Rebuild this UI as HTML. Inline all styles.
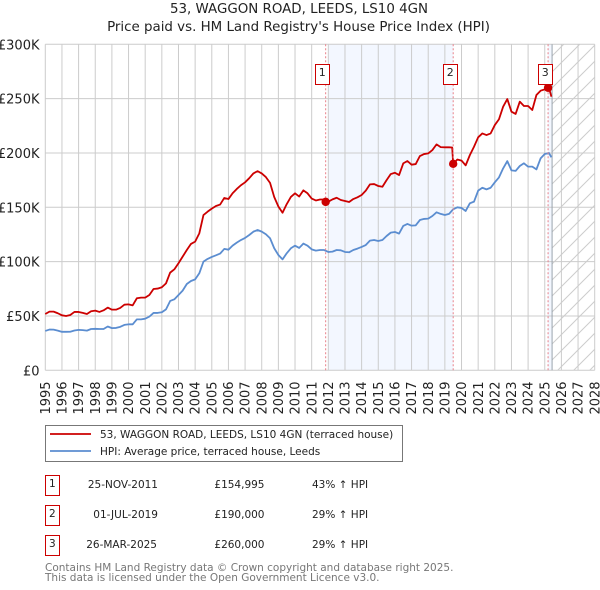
<!DOCTYPE html>
<html>
<head>
<meta charset="utf-8">
<title>53, WAGGON ROAD, LEEDS, LS10 4GN</title>
<style>
html,body{margin:0;padding:0;background:#fff;width:600px;height:590px;overflow:hidden}
svg{display:block}
text{font-family:"DejaVu Sans","Liberation Sans",sans-serif}
</style>
</head>
<body>
<svg id="chart" xmlns="http://www.w3.org/2000/svg" width="600" height="590" viewBox="0 0 600 590">
  <defs>
    <pattern id="hatch" patternUnits="userSpaceOnUse" width="16" height="16">
      <path d="M-2 18 L18 -2 M-2 2 L2 -2 M14 18 L18 14" stroke="#cccccc" stroke-width="1" fill="none"/>
    </pattern>
  </defs>
  <text x="299" y="13" text-anchor="middle" font-size="13.4" fill="#222">53, WAGGON ROAD, LEEDS, LS10 4GN</text>
  <text x="298.5" y="31" text-anchor="middle" font-size="13.4" fill="#222">Price paid vs. HM Land Registry's House Price Index (HPI)</text>
  <g id="bands"></g>
  <g id="grid"></g>
  <g id="yticks"></g>
  <g id="xticks"></g>
  <g id="series"></g>
  <g id="sales"></g>

  <g>
    <rect x="45.5" y="425.5" width="357" height="36" fill="#fff" stroke="#777" stroke-width="1"/>
    <line x1="50" x2="91" y1="434" y2="434" stroke="#cc0000" stroke-width="1.8"/>
    <text x="100" y="438" font-size="10.5" fill="#222">53, WAGGON ROAD, LEEDS, LS10 4GN (terraced house)</text>
    <line x1="50" x2="91" y1="451" y2="451" stroke="#5b8dd0" stroke-width="1.8"/>
    <text x="100" y="455" font-size="10.5" fill="#222">HPI: Average price, terraced house, Leeds</text>
  </g>

  <g font-size="10.5" fill="#222">
    <rect x="45.5" y="475.5" width="14" height="20" fill="#fff" stroke="#cc0000" stroke-width="1"/>
    <text x="52.3" y="487" text-anchor="middle">1</text>
    <text x="158" y="488" text-anchor="end">25-NOV-2011</text>
    <text x="264.5" y="488" text-anchor="end">£154,995</text>
    <text x="312" y="488">43% ↑ HPI</text>
  </g>
  <g font-size="10.5" fill="#222">
    <rect x="45.5" y="505.5" width="14" height="20" fill="#fff" stroke="#cc0000" stroke-width="1"/>
    <text x="52.3" y="517" text-anchor="middle">2</text>
    <text x="158" y="518" text-anchor="end">01-JUL-2019</text>
    <text x="264.5" y="518" text-anchor="end">£190,000</text>
    <text x="312" y="518">29% ↑ HPI</text>
  </g>
  <g font-size="10.5" fill="#222">
    <rect x="45.5" y="535.5" width="14" height="20" fill="#fff" stroke="#cc0000" stroke-width="1"/>
    <text x="52.3" y="547" text-anchor="middle">3</text>
    <text x="157" y="548" text-anchor="end">26-MAR-2025</text>
    <text x="264.5" y="548" text-anchor="end">£260,000</text>
    <text x="312" y="548">29% ↑ HPI</text>
  </g>

  <text x="45" y="571" font-size="10.5" fill="#777">Contains HM Land Registry data © Crown copyright and database right 2025.</text>
  <text x="45" y="581" font-size="10.5" fill="#777">This data is licensed under the Open Government Licence v3.0.</text>
</svg>
<script>
const yearTicks = [1995,1996,1997,1998,1999,2000,2001,2002,2003,2004,2005,2006,2007,2008,2009,2010,2011,2012,2013,2014,2015,2016,2017,2018,2019,2020,2021,2022,2023,2024,2025,2026,2027,2028];
const valueTicks = [0,50,100,150,200,250,300];
const valueTickLabels = ['£0','£50K','£100K','£150K','£200K','£250K','£300K'];

// Quarterly series from 1995 Q1, thousands of pounds
const hpiValues = [
36.2,37.5,37.4,36.5, 35.4,35.4,35.5,36.6, 37.2,37,36.5,38, 38.2,38,38,40.3,
38.8,39,40,41.8, 42.3,42.3,46.9,46.9, 47.5,49.4,52.8,52.8, 53.4,56.1,63.8,65.3,
69.3,73.3,79.4,82.2, 83.7,89.3,100,102.5, 104.3,105.8,107.4,111.7, 111,114.7,117.5,119.9,
121.8,124.5,127.6,129.1, 127.6,125.2,121.5,112.3, 106.1,102.1,107.7,112.3, 114.7,112.6,116.6,114.7,
111.3,110.1,110.7,110.7, 108.9,109.2,110.7,110.4, 108.9,108.6,110.7,112, 113.5,115.3,119.3,119.9,
119,119.9,123.6,126.7, 127.3,125.8,132.8,134.7, 133.1,133.4,138.3,139.3, 139.6,142,145.4,143.9,
142.9,143.9,148.2,150, 149.4,146.6,153.7,155.2, 165.3,168,166.5,168, 173,177.5,185.8,192.5,
184,183.5,188,190.5, 187.4,187.4,184.9,195, 199,200,196
];
const priceValues = [
51.8,54,54,52.5, 50.6,50,50.9,53.7, 53.7,52.8,51.8,54.3, 54.9,53.7,55.2,57.7,
55.8,55.8,57.4,60.4, 60.7,59.8,66.3,66.9, 66.9,69.3,74.8,75.2, 76.4,80,89.9,92.9,
98.5,104.6,110.7,116.3, 118.4,126,142.9,146, 148.8,151.2,152.5,158.6, 157.6,162.9,166.9,170.3,
173,176.8,181.2,183.3, 181.2,177.8,172.5,159.5, 150.7,145,152.9,159.5, 162.9,159.9,165.6,162.9,
158,156.3,157.2,157.2, 155.2,157.3,158.8,156.7, 155.8,154.9,157.6,159.2, 161.3,165.3,171.1,171.4,
169.6,168.9,175,180.6, 181.8,179.7,190.4,192.6, 189.2,189.8,197.2,199, 199.6,202.7,207.9,205.4,
205.2,205.2,190,194, 193,188.6,198,205.7, 214.4,218,216.5,218, 225.7,231,242.6,249.6,
238,235.9,247.2,243.2, 243.2,239.5,253.3,257.3, 258.5,260,251.8
];
const seriesStartYear = 1995;
const seriesStepYears = 0.25;
const lastSampleYear = 2025.4;
const priceDropYear = 2019.44;
const priceDropValue = 205;

const saleLabels = ['1','2','3'];
const saleYears = [2011.84,2019.5,2025.2];
const salePrices = [154.995,190,260];
const shadedFromYear = 2012;
const shadedToYear = 2019.5;
const recentBandFromYear = 2025.2;
const forecastFromYear = 2025.44;

const plotLeft = 45.3, plotRight = 594.7, plotTop = 44.3, plotBottom = 370.3;
const xDomainMin = 1995, xDomainMax = 2028, yDomainMax = 300;
function xScale(year){ return plotLeft + (year - xDomainMin) * (plotRight - plotLeft) / (xDomainMax - xDomainMin); }
function yScale(v){ return plotBottom - v * (plotBottom - plotTop) / yDomainMax; }

const NS = 'http://www.w3.org/2000/svg';
function make(parent, tag, attrs){
  const el = document.createElementNS(NS, tag);
  for (const k in attrs) el.setAttribute(k, attrs[k]);
  parent.appendChild(el);
  return el;
}
function sampleYear(i, n){ return i === n - 1 ? lastSampleYear : seriesStartYear + i * seriesStepYears; }
function linePath(points){
  return points.map((p, i) => (i ? 'L' : 'M') + xScale(p[0]).toFixed(2) + ' ' + yScale(p[1]).toFixed(2)).join(' ');
}

const bands = document.getElementById('bands');
const band1 = make(bands, 'rect', {x: xScale(shadedFromYear), y: plotTop, width: xScale(shadedToYear) - xScale(shadedFromYear), height: plotBottom - plotTop, fill: '#f3f7ff'});


const band2 = make(bands, 'rect', {x: xScale(recentBandFromYear), y: plotTop, width: xScale(forecastFromYear) - xScale(recentBandFromYear), height: plotBottom - plotTop, fill: '#f3f7ff'});


const hatch = make(bands, 'rect', {x: xScale(forecastFromYear), y: plotTop, width: plotRight - xScale(forecastFromYear), height: plotBottom - plotTop, fill: 'url(#hatch)'});



const grid = document.getElementById('grid');
yearTicks.forEach(function(year){
  const l = make(grid, 'line', {x1: xScale(year), x2: xScale(year), y1: plotTop, y2: plotBottom, stroke: '#cccccc', 'stroke-width': 1});
  
  
});
valueTicks.forEach(function(v){
  const l = make(grid, 'line', {x1: plotLeft, x2: plotRight, y1: yScale(v), y2: yScale(v), stroke: '#cccccc', 'stroke-width': 1});
  
  
});
const endLine = make(grid, 'line', {x1: xScale(forecastFromYear), x2: xScale(forecastFromYear), y1: plotTop, y2: plotBottom, stroke: '#9aa3ad', 'stroke-width': 1});



const yticks = document.getElementById('yticks');
valueTicks.forEach(function(v, i){
  const t = make(yticks, 'text', {x: 39.5, y: yScale(v) + 5, 'text-anchor': 'end', 'font-size': 13, fill: '#222'});
  
  
  t.textContent = valueTickLabels[i];
});
const xticks = document.getElementById('xticks');
yearTicks.forEach(function(year){
  const x = xScale(year) + 4.6;
  const t = make(xticks, 'text', {x: x, y: 414.5, transform: 'rotate(-90 ' + x + ' 414.5)', 'font-size': 13, fill: '#222'});
  
  
  t.textContent = year;
});

const series = document.getElementById('series');
const hpiPoints = hpiValues.map((v, i) => [sampleYear(i, hpiValues.length), v]);
const pricePoints = priceValues.map((v, i) => [sampleYear(i, priceValues.length), v]);
const dropIndex = pricePoints.findIndex(p => p[0] > priceDropYear);
pricePoints.splice(dropIndex, 0, [priceDropYear, priceDropValue]);

const priceLine = make(series, 'path', {d: linePath(pricePoints), fill: 'none', stroke: '#cc0000', 'stroke-width': 1.8, 'stroke-linejoin': 'round'});


const hpiLine = make(series, 'path', {d: linePath(hpiPoints), fill: 'none', stroke: '#5b8dd0', 'stroke-width': 1.8, 'stroke-linejoin': 'round'});



const sales = document.getElementById('sales');
saleYears.forEach(function(year, i){
  const x = xScale(year);
  const guide = make(sales, 'line', {x1: x, x2: x, y1: plotTop, y2: plotBottom, stroke: '#e8808a', 'stroke-width': 1, 'stroke-dasharray': '2 2'});
  
  
  const dot = make(sales, 'circle', {cx: x, cy: yScale(salePrices[i]), r: 4.2, fill: '#cc0000'});
  
  
  const box = make(sales, 'rect', {x: Math.round(x - 10.5) + 0.5, y: 64.5, width: 14, height: 20, fill: '#fff', stroke: '#cc0000', 'stroke-width': 1});
  
  
  const label = make(sales, 'text', {x: Math.round(x - 10.5) + 7.3, y: 76, 'text-anchor': 'middle', 'font-size': 11, fill: '#222'});
  
  
  label.textContent = saleLabels[i];
});
</script>
</body>
</html>
